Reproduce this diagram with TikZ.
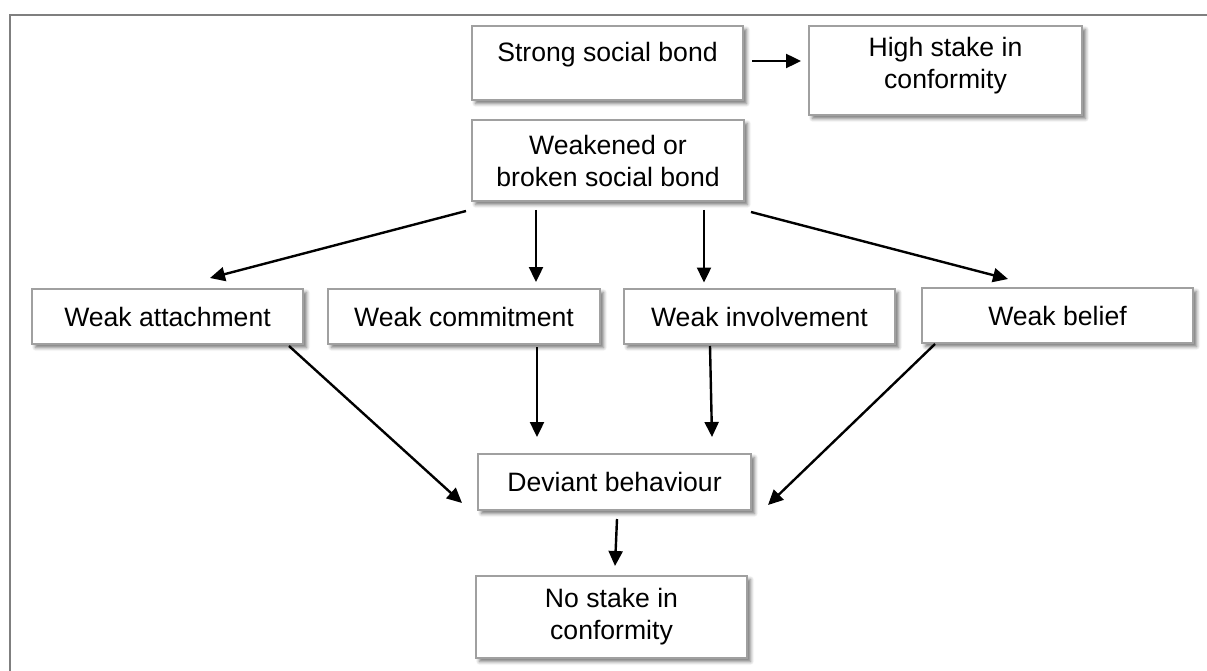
\documentclass[tikz,border=0pt]{standalone}
\usepackage{fontspec}
\setmainfont{Liberation Sans}
\usetikzlibrary{arrows.meta,shadows.blur}
\definecolor{framegray}{HTML}{7F7F7F}
\definecolor{boxgray}{HTML}{A0A0A0}
\tikzset{
  flowbox/.style={draw=boxgray, line width=2pt, fill=white, inner sep=0pt,
    minimum width=271pt, align=center,
    font=\fontsize{26.6}{32}\selectfont,
    blur shadow={shadow xshift=3.5pt, shadow yshift=-3.5pt, shadow blur radius=3.5pt, shadow blur steps=6, shadow opacity=55}},
  link/.style={line width=2.4pt, -{Triangle[length=15pt,width=14pt]}},
}
\begin{document}
\begin{tikzpicture}[x=1pt,y=-1pt]
\useasboundingbox (0,0) rectangle (1207,671);
\draw[framegray, line width=2.5pt] (10,672) -- (10,15) -- (1208,15);

\node[flowbox, minimum height=74pt] (strong) at (607.5,63) {Strong social bond\\[-10pt]\mbox{}};
\node[flowbox, minimum width=273pt, minimum height=89pt] (high) at (945.5,70.5) {High stake in\\conformity\\[-16pt]\mbox{}};
\node[flowbox, minimum width=272pt, minimum height=81pt] (weak) at (608,160.5) {Weakened or\\broken social bond};
\node[flowbox, minimum height=55pt] (attach) at (167.5,316.5) {Weak attachment};
\node[flowbox, minimum width=272pt, minimum height=55pt] (commit) at (464,316.5) {Weak commitment};
\node[flowbox, minimum height=55pt] (involve) at (759.5,316.5) {Weak involvement};
\node[flowbox, minimum height=55pt] (belief) at (1057.5,315.5) {Weak belief};
\node[flowbox, minimum width=273pt, minimum height=56pt] (dev) at (614.5,482) {Deviant behaviour};
\node[flowbox, minimum height=82pt] (nostake) at (611.5,617) {No stake in\\conformity};

\draw[link] ([shift={(8,-2)}]strong.east) -- ([shift={(-7,-9.5)}]high.west);
\draw[link] ([shift={(-5,9)}]weak.south west) -- ([shift={(42.5,-10)}]attach.north);
\draw[link] ([shift={(-72,8)}]weak.south) -- ([shift={(72,-6)}]commit.north);
\draw[link] ([shift={(96,8)}]weak.south) -- ([shift={(-55.5,-5.5)}]involve.north);
\draw[link] ([shift={(6,10)}]weak.south east) -- ([shift={(-49.5,-8)}]belief.north);
\draw[link] ([shift={(-15,1)}]attach.south east) -- ([shift={(-15,21)}]dev.west);
\draw[link] ([shift={(73,2)}]commit.south) -- ([shift={(-77.5,-16)}]dev.north);
\draw[link] ([shift={(-49.5,1)}]involve.south) -- ([shift={(97.5,-16)}]dev.north);
\draw[link] ([shift={(14,0)}]belief.south west) -- ([shift={(16,23)}]dev.east);
\draw[link] ([shift={(2.5,8)}]dev.south) -- ([shift={(3.5,-9)}]nostake.north);
\end{tikzpicture}
\end{document}
